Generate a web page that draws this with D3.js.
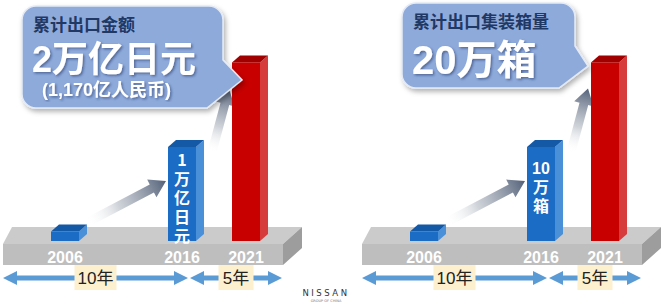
<!DOCTYPE html>
<html>
<head>
<meta charset="utf-8">
<script src="https://cdn.jsdelivr.net/npm/d3@7"></script>
<style>
  body { margin: 0; background: #fff; }
  svg { display: block; }
</style>
</head>
<body>
<div id="chart"></div>
<script>
//Datos
const years = [2006, 2016, 2021];
const amountValues = [0.1, 1, 1.9];   // 万亿日元
const boxValues = [1, 10, 19];        // 万箱
const amountBarText = [[], ['1', '万', '亿', '日', '元'], []];
const boxBarText = [[], ['10', '万', '箱'], []];
const periodStarts = [2006, 2016];
const periodEnds = [2016, 2021];
const periodLabels = ['10年', '5年'];
const amountTitle = '累计出口金额', amountTotal = '2万亿日元', amountNote = '(1,170亿人民币)';
const boxTitle = '累计出口集装箱量', boxTotal = '20万箱';

//Colores
const BLUE_FRONT = '#1b6cc4', BLUE_SIDE = '#4a90d8', BLUE_TOP = '#1459a6',
  RED_FRONT = '#c80000', RED_SIDE = '#d63c3c', RED_TOP = '#a10000',
  GREY_TOP = '#cbcbcb', GREY_FRONT = '#bebebe', GREY_SIDE = '#9d9d9d',
  ARROW_BLUE = '#5b9bd5', CALLOUT = '#8eaadb', NAVY = '#1f3864';

const FONT = '"Liberation Sans", "Noto Sans CJK SC", sans-serif';
const VFONT = '"Noto Sans CJK SC", sans-serif';
const width = 670, height = 304;

const svg = d3.select('#chart').append('svg')
  .attr('width', width).attr('height', height);

const defs = svg.append('defs');
let sh = defs.append('filter').attr('id', 'boxShadow').attr('x', '-10%').attr('y', '-10%').attr('width', '130%').attr('height', '140%');
sh.append('feDropShadow').attr('dx', 2).attr('dy', 3).attr('stdDeviation', 2.5)
  .attr('flood-color', '#000').attr('flood-opacity', 0.3);
let ts = defs.append('filter').attr('id', 'textShadow');
ts.append('feDropShadow').attr('dx', 1.5).attr('dy', 1.5).attr('stdDeviation', 0.8)
  .attr('flood-color', NAVY).attr('flood-opacity', 0.55);

let gradCount = 0;

function fatArrow(s, e, sw, hw, hl) {
  let dx = e[0] - s[0], dy = e[1] - s[1], L = Math.hypot(dx, dy);
  let ux = dx / L, uy = dy / L, nx = -uy, ny = ux;
  let b = [e[0] - ux * hl, e[1] - uy * hl];
  let p = [
    [s[0] + nx * sw, s[1] + ny * sw], [b[0] + nx * sw, b[1] + ny * sw],
    [b[0] + nx * hw, b[1] + ny * hw], e,
    [b[0] - nx * hw, b[1] - ny * hw], [b[0] - nx * sw, b[1] - ny * sw],
    [s[0] - nx * sw, s[1] - ny * sw]
  ];
  return 'M' + p.join('L') + 'Z';
}

function doubleArrow(x0, x1, yc, sw, hw, hl) {
  let p = [[x0, yc], [x0 + hl, yc - hw], [x0 + hl, yc - sw], [x1 - hl, yc - sw], [x1 - hl, yc - hw],
    [x1, yc], [x1 - hl, yc + hw], [x1 - hl, yc + sw], [x0 + hl, yc + sw], [x0 + hl, yc + hw]];
  return 'M' + p.join('L') + 'Z';
}

function calloutPath(x, y, w, h, r, t1, tip, t2x) {
  return 'M' + (x + r) + ',' + y +
    'H' + (x + w - r) + 'A' + r + ',' + r + ' 0 0 1 ' + (x + w) + ',' + (y + r) +
    'V' + t1 + 'L' + tip[0] + ',' + tip[1] + 'L' + t2x + ',' + (y + h) +
    'H' + (x + r) + 'A' + r + ',' + r + ' 0 0 1 ' + x + ',' + (y + h - r) +
    'V' + (y + r) + 'A' + r + ',' + r + ' 0 0 1 ' + (x + r) + ',' + y + 'Z';
}

function drawPanel(offset, values, barText, textTop, callout) {
  let g = svg.append('g').attr('transform', 'translate(' + offset + ',0)');

  let x = d3.scaleLinear().domain(years).range([65, 182, 246]);
  let y = d3.scaleLinear().domain([0, values[1] * 2]).range([241, 53]);
  let bw = 28, ddx = 8, ddy = 7, step = 19;

  //Plataforma
  g.append('path').attr('d', 'M3,244L283,244L302,227L12,227Z').attr('fill', GREY_TOP);
  g.append('rect').attr('x', 3).attr('y', 244).attr('width', 280).attr('height', 21).attr('fill', GREY_FRONT);
  g.append('path').attr('d', 'M283,244L302,227L302,248L283,265Z').attr('fill', GREY_SIDE);

  //Años
  g.selectAll('.year').data(years).enter().append('text')
    .attr('x', d => x(d)).attr('y', 263)
    .attr('text-anchor', 'middle')
    .style('font-family', FONT).style('font-weight', 700).style('font-size', '16px')
    .attr('fill', '#fff')
    .text(d => d);

  //Periodos
  periodLabels.forEach(function(lab, i) {
    let x0 = periodStarts[i] === years[0] ? x(periodStarts[i]) - 62 : x(periodStarts[i]) + 8;
    let x1 = periodEnds[i] === years[years.length - 1] ? x(periodEnds[i]) + 36 : x(periodEnds[i]) + 6;
    g.append('path').attr('d', doubleArrow(x0, x1, 278, 2.5, 7, 14)).attr('fill', ARROW_BLUE);
    let cx = (x0 + x1) / 2;
    let tw = lab.length === 3 ? 42 : 35;
    g.append('rect').attr('x', cx - tw / 2).attr('y', 265).attr('width', tw).attr('height', 25).attr('fill', '#fdf0cf');
    g.append('text').attr('x', cx).attr('y', 284).attr('text-anchor', 'middle')
      .style('font-family', FONT).style('font-size', '17px').attr('fill', '#222').text(lab);
  });

  //Flechas grises
  let arrows = [
    [[x(years[0]) + bw / 2 + 9, y(0) - 19], [x(years[1]) - bw / 2 - 2, y(0) - 60]],
    [[x(years[1]) + bw / 2 + 16, y(values[1]) + 5], [x(years[2]) - bw / 2 - 3, y(values[2]) + 26]]
  ];
  arrows.forEach(function(a) {
    let id = 'ga' + (gradCount++);
    let lg = defs.append('linearGradient').attr('id', id).attr('gradientUnits', 'userSpaceOnUse')
      .attr('x1', a[0][0]).attr('y1', a[0][1]).attr('x2', a[1][0]).attr('y2', a[1][1]);
    lg.append('stop').attr('offset', '0%').attr('stop-color', '#ffffff').attr('stop-opacity', 0);
    lg.append('stop').attr('offset', '40%').attr('stop-color', '#b9bfc8').attr('stop-opacity', 0.7);
    lg.append('stop').attr('offset', '100%').attr('stop-color', '#526078').attr('stop-opacity', 1);
    g.append('path').attr('d', fatArrow(a[0], a[1], 4.5, 10, 16)).attr('fill', 'url(#' + id + ')');
  });

  //Barras
  years.forEach(function(yr, i) {
    let cx = x(yr), x0 = cx - bw / 2, x1 = cx + bw / 2, yt = y(values[i]), yb = y(0);
    let red = i === years.length - 1;
    g.append('path').attr('d', 'M' + x1 + ',' + yt + 'L' + (x1 + ddx) + ',' + (yt - ddy) + 'L' + (x1 + ddx) + ',' + (yb - ddy) + 'L' + x1 + ',' + yb + 'Z')
      .attr('fill', red ? RED_SIDE : BLUE_SIDE);
    g.append('path').attr('d', 'M' + x0 + ',' + yt + 'L' + (x0 + ddx) + ',' + (yt - ddy) + 'L' + (x1 + ddx) + ',' + (yt - ddy) + 'L' + x1 + ',' + yt + 'Z')
      .attr('fill', red ? RED_TOP : BLUE_TOP);
    g.append('rect').attr('x', x0).attr('y', yt).attr('width', bw).attr('height', yb - yt)
      .attr('fill', red ? RED_FRONT : BLUE_FRONT);

    //Texto vertical: los trozos de varios caracteres van en horizontal
    let chunks = barText[i];
    let j = 0;
    while (j < chunks.length) {
      let cy = yt + textTop + j * step;
      if (chunks[j].length > 1) {
        g.append('text').attr('x', cx).attr('y', cy + 6).attr('text-anchor', 'middle')
          .style('font-family', FONT).style('font-weight', 700).style('font-size', '16px')
          .attr('fill', '#fff').text(chunks[j]);
        j++;
      } else {
        let run = '';
        while (j < chunks.length && chunks[j].length === 1) { run += chunks[j]; j++; }
        g.append('text').attr('x', cx).attr('y', cy - 8)
          .style('writing-mode', 'vertical-rl').style('text-orientation', 'upright')
          .style('letter-spacing', (step - 16) + 'px')
          .style('font-family', VFONT).style('font-weight', 700).style('font-size', '16px')
          .attr('fill', '#fff').text(run);
      }
    }
  });

  //Bocadillo
  let c = callout;
  g.append('path').attr('d', calloutPath(c.x, c.y, c.w, c.h, 14, c.t1, c.tip, c.t2x))
    .attr('fill', CALLOUT).attr('stroke', '#e4eaf5').attr('stroke-width', 1.5)
    .attr('filter', 'url(#boxShadow)');
  g.append('text').attr('x', c.x + 11).attr('y', c.y + 25)
    .style('font-family', FONT).style('font-weight', 700).style('font-size', '17px')
    .attr('fill', NAVY).text(c.title);
  g.append('text').attr('x', c.x + 10).attr('y', c.totalY)
    .style('font-family', FONT).style('font-weight', 700).style('font-size', c.totalSize + 'px')
    .attr('fill', '#fff').attr('filter', 'url(#textShadow)').text(c.total);
  if (c.note) {
    g.append('text').attr('x', c.x + 20).attr('y', c.y + 90)
      .style('font-family', FONT).style('font-weight', 700).style('font-size', '18px')
      .attr('fill', '#fff').attr('filter', 'url(#textShadow)').text(c.note);
  }
}

drawPanel(0, amountValues, amountBarText, 13, {
  x: 22, y: 6, w: 201, h: 102, t1: 60, tip: [242, 80], t2x: 207,
  title: amountTitle, total: amountTotal, totalSize: 36, totalY: 72, note: amountNote
});

drawPanel(359, boxValues, boxBarText, 21, {
  x: 43, y: 3, w: 173, h: 85, t1: 46, tip: [229, 66], t2x: 200,
  title: boxTitle, total: boxTotal, totalSize: 40, totalY: 74, note: null
});

//Logo
svg.append('text').attr('x', 326).attr('y', 296).attr('text-anchor', 'middle')
  .style('font-family', '"DejaVu Sans", sans-serif').style('font-size', '8.5px').style('letter-spacing', '2.5px')
  .attr('fill', '#333').text('NISSAN');
svg.append('text').attr('x', 326).attr('y', 302).attr('text-anchor', 'middle')
  .style('font-family', '"DejaVu Sans", sans-serif').style('font-size', '3.5px')
  .attr('fill', '#777').text('GROUP OF CHINA');
</script>
</body>
</html>
